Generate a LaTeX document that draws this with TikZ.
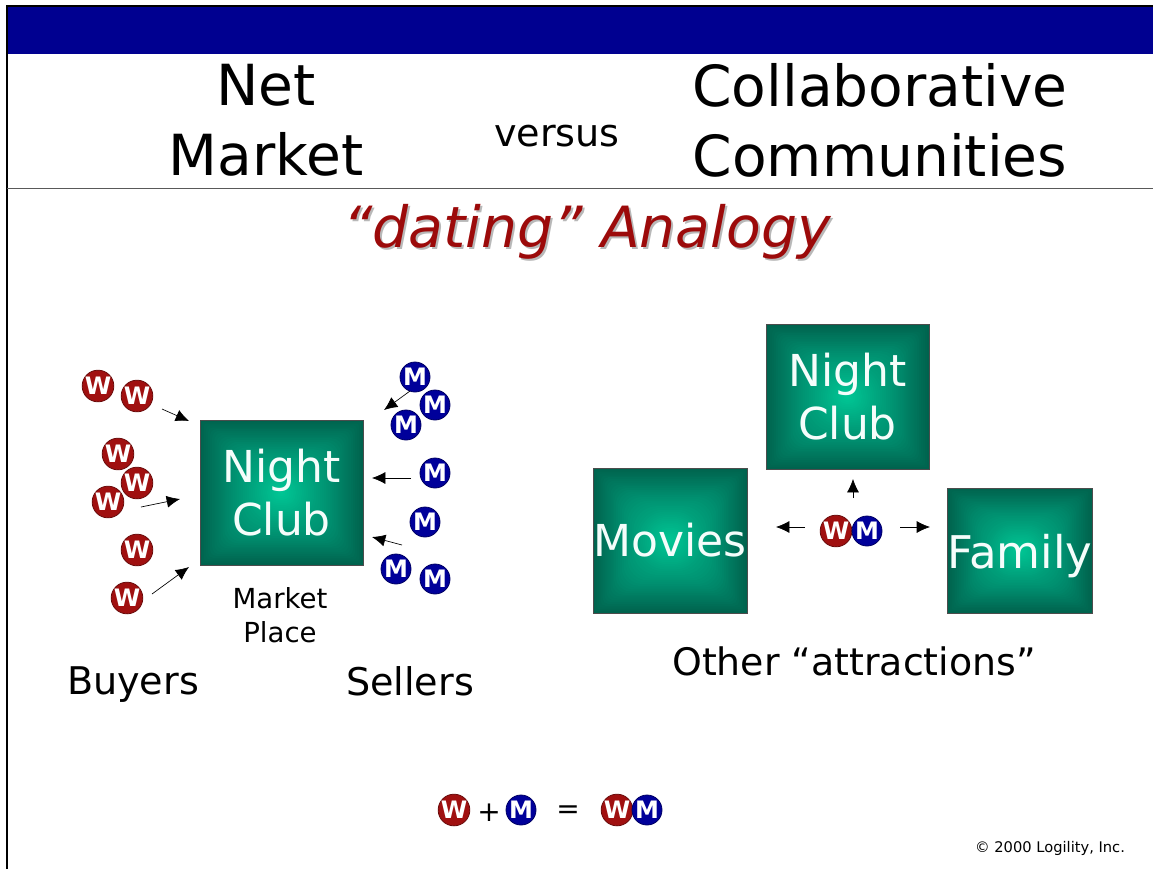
\documentclass[tikz,border=0pt]{standalone}
\usepackage{fontspec}
\setmainfont{DejaVu Sans}
\usetikzlibrary{arrows.meta}
\definecolor{bandblue}{HTML}{000090}
\definecolor{coinred}{HTML}{A01010}
\definecolor{coinblue}{HTML}{00009A}
\definecolor{tealdark}{HTML}{00634E}
\definecolor{tealmid}{HTML}{009070}
\definecolor{teallight}{HTML}{00C896}
\definecolor{titlered}{HTML}{9C0A0A}
\newcommand{\szfont}[2]{\fontsize{#1}{#2}\selectfont}
\tikzset{
  coinbase/.style={circle,minimum size=22.5pt,inner sep=0pt,text=white,font=\bfseries\szfont{18}{18}},
  wcoin/.style={coinbase,fill=coinred,draw=coinred!65!black,line width=0.6pt},
  mcoin/.style={coinbase,fill=coinblue,draw=coinblue!65!black,line width=0.6pt},
  flow/.style={-{Latex[length=10pt,width=9pt]},line width=0.5pt,black},
  boxlabel/.style={rectangle,draw=black!70,line width=0.7pt,text=white!96!teallight,align=center,inner sep=0pt,font=\szfont{33}{39.5}},
  heading/.style={align=center,text=black,font=\szfont{42.5}{52.5}},
  caption/.style={align=center,text=black,font=\szfont{28.6}{34}},
}
% nested rectangles give the centre-glow fill of the boxes; arguments: x1,y1,x2,y2
\newcommand{\glowbox}[4]{%
  \foreach \k in {0,...,39}{%
    \pgfmathsetmacro{\tv}{\k/40}%
    \pgfmathsetmacro{\pa}{min(100,\tv*250)}%
    \pgfmathsetmacro{\pb}{max(0,(\tv-0.4)*166.6)}%
    \pgfmathsetmacro{\rc}{min(\tv*34,0.9*(1-\tv)*0.375*min(#3-#1,#4-#2))}%
    \colorlet{cc}{tealmid!\pa!tealdark}%
    \ifdim\tv pt>0.4pt \colorlet{cc}{teallight!\pb!tealmid}\fi
    \fill[cc,rounded corners=\rc pt]
      ({#1+\tv*(#3-#1)/2},{#2+\tv*(#4-#2)/2}) rectangle ({#3-\tv*(#3-#1)/2},{#4-\tv*(#4-#2)/2});
  }%
}
\begin{document}
\begin{tikzpicture}[x=0.75pt,y=-0.75pt]
\useasboundingbox (0,0) rectangle (1153,869);
\fill[white] (0,0) rectangle (1153,869);
% slide band and rules
\fill[bandblue] (6,6) rectangle (1153,54);
\draw[black,line width=1.5pt] (6.5,869) -- (6.5,5.5) -- (1153,5.5);
\draw[black!65,line width=0.9pt] (7,188.5) -- (1153,188.5);
% headings
\node[heading] (net) at (266,120.5) {Net\\Market};
\node[caption] (versus) at (557,136) {versus};
\node[heading] (collab) at (880,120.5) {Collaborative\\Communities};
\node[text=black!28,font=\itshape\szfont{42.6}{50}] (shadow) at (589,234) {“dating” Analogy};
\node[text=titlered,font=\itshape\szfont{42.6}{50}] (analogy) at (587,232) {“dating” Analogy};
% boxes
\glowbox{200}{420}{363}{565}
\node[boxlabel,minimum width=122.25pt,minimum height=108.75pt] (club1) at (281.5,492.5) {Night\\Club};
\glowbox{766}{324}{929}{469}
\node[boxlabel,minimum width=122.25pt,minimum height=108.75pt] (club2) at (847.5,396.5) {Night\\Club};
\glowbox{593}{468}{747}{613}
\node[boxlabel,minimum width=115.5pt,minimum height=108.75pt] (movies) at (670,540.5) {Movies};
\glowbox{948}{488}{1092}{613}
\node[boxlabel,minimum width=108pt,minimum height=93.75pt,font=\szfont{33.8}{39.5},text height=26.5pt,text depth=0.2pt] (family) at (1020,550.5) {Family};
% left coins
\node[wcoin] (w1) at (98,386) {W};
\node[wcoin] (w2) at (137,396) {W};
\node[wcoin] (w3) at (118,454) {W};
\node[wcoin] (w5) at (108,502) {W};
\node[wcoin] (w4) at (137,483) {W};
\node[wcoin] (w6) at (137,550) {W};
\node[wcoin] (w7) at (127,598) {W};
\node[mcoin] (m1) at (415,377) {M};
\node[mcoin] (m2) at (435,405) {M};
\node[mcoin] (m3) at (406,425) {M};
\node[mcoin] (m4) at (435,473) {M};
\node[mcoin] (m5) at (425,522) {M};
\node[mcoin] (m6) at (396,569) {M};
\node[mcoin] (m7) at (435,579) {M};
% arrow ends
\coordinate (a1s) at (162,409); \coordinate (a1e) at (189,421);
\coordinate (a2s) at (141,507); \coordinate (a2e) at (180,499);
\coordinate (a3s) at (152,594); \coordinate (a3e) at (189,567);
\coordinate (a4s) at (410,391); \coordinate (a4e) at (384,410);
\coordinate (a5s) at (411,478); \coordinate (a5e) at (372,478);
\coordinate (a6s) at (402,545); \coordinate (a6e) at (372,537);
\draw[flow] (a1s) -- (a1e);
\draw[flow] (a2s) -- (a2e);
\draw[flow] (a3s) -- (a3e);
\draw[flow] (a4s) -- (a4e);
\draw[flow] (a5s) -- (a5e);
\draw[flow] (a6s) -- (a6e);
% right couple
\node[wcoin] (cw) at (836,531) {W};
\node[mcoin] (cm) at (867,531) {M};
\coordinate (b1s) at (853,498); \coordinate (b1e) at (853,479);
\coordinate (b2s) at (805,527); \coordinate (b2e) at (776,527);
\coordinate (b3s) at (900,527); \coordinate (b3e) at (930,527);
\draw[flow] (b1s) -- (b1e);
\draw[flow] (b2s) -- (b2e);
\draw[flow] (b3s) -- (b3e);
% captions
\node[align=center,text=black,font=\szfont{20.7}{25.5}] (place) at (280,615) {Market\\Place};
\node[caption] (buyers) at (133,685) {Buyers};
\node[caption] (sellers) at (410,681) {Sellers};
\node[caption,font=\szfont{28.4}{34}] (other) at (854,661) {Other “attractions”};
% equation
\node[wcoin] (ew) at (454,810) {W};
\node[text=black,font=\szfont{21}{24}] (plus) at (489,813) {+};
\node[mcoin] (em) at (521,810) {M};
\node[text=black,font=\szfont{21}{24}] (equals) at (568,812) {=};
\node[wcoin] (rw) at (617,810) {W};
\node[mcoin] (rm) at (647,810) {M};
\node[text=black,font=\szfont{11}{12}] (copy) at (1050,848) {© 2000 Logility, Inc.};
\end{tikzpicture}
\end{document}
